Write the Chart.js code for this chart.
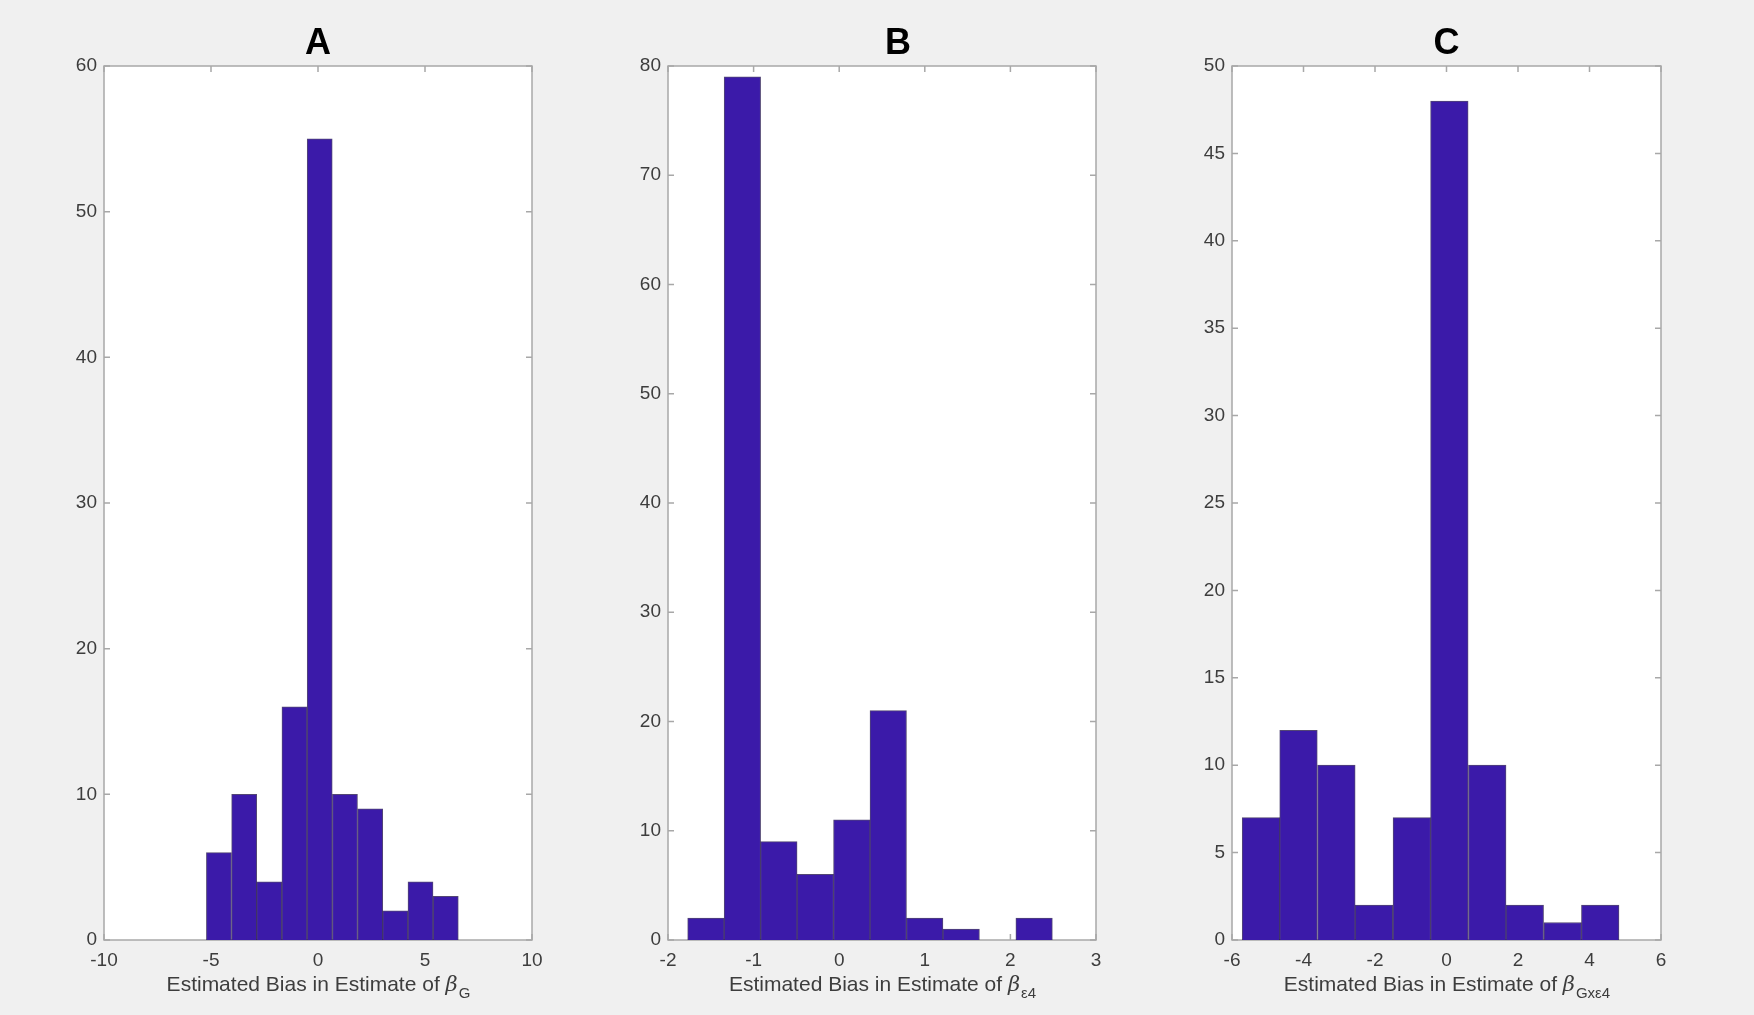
<!DOCTYPE html>
<html>
<head>
<meta charset="utf-8">
<script src="https://cdn.jsdelivr.net/npm/chart.js@4.4.1/dist/chart.umd.min.js"></script>
<style>
  html, body { margin: 0; padding: 0; background: #f0f0f0; }
  body { width: 1754px; height: 1015px; position: relative; overflow: hidden; }
  canvas { position: absolute; top: 0; }
</style>
</head>
<body>
<canvas id="cA" width="548" height="1015" style="left:24px"></canvas>
<canvas id="cB" width="548" height="1015" style="left:588px"></canvas>
<canvas id="cC" width="549" height="1015" style="left:1152px"></canvas>
<script>
// histogram bin centres and counts
const centersA = [-4.63, -3.45, -2.28, -1.10, 0.08, 1.26, 2.44, 3.61, 4.79, 5.97];
const countsA  = [6, 10, 4, 16, 55, 10, 9, 2, 4, 3];

const centersB = [-1.557, -1.131, -0.705, -0.279, 0.147, 0.573, 0.999, 1.425, 1.851, 2.277];
const countsB  = [2, 79, 9, 6, 11, 21, 2, 1, 0, 2];

const centersC = [-5.19, -4.14, -3.08, -2.03, -0.97, 0.08, 1.14, 2.19, 3.25, 4.30];
const countsC  = [7, 12, 10, 2, 7, 48, 10, 2, 1, 2];

// axis limits and tick steps
const xAxisA = [-10, 10, 5], yAxisA = [0, 60, 10];
const xAxisB = [-2, 3, 1],   yAxisB = [0, 80, 10];
const xAxisC = [-6, 6, 2],   yAxisC = [0, 50, 5];

const titles = ['A', 'B', 'C'];
const subs = ['G', '\u03b54', 'Gx\u03b54'];

const barColor = '#3b1aa9';
const frameColor = '#a8a8a8';
const textColor = '#3d3d3d';
const fontFam = '"Liberation Sans", Arial, sans-serif';

// white plot area, frame with inward ticks on all four sides, title and x label
const framePlugin = {
  id: 'frame',
  beforeDatasetsDraw(chart) {
    const ctx = chart.ctx, a = chart.chartArea;
    ctx.save();
    ctx.fillStyle = '#ffffff';
    ctx.fillRect(a.left, a.top, a.right - a.left, a.bottom - a.top);
    ctx.strokeStyle = frameColor;
    ctx.lineWidth = 1.5;
    const t = 6;
    ctx.beginPath();
    chart.scales.x.ticks.forEach(tk => {
      const px = chart.scales.x.getPixelForValue(tk.value);
      ctx.moveTo(px, a.bottom); ctx.lineTo(px, a.bottom - t);
      ctx.moveTo(px, a.top); ctx.lineTo(px, a.top + t);
    });
    chart.scales.y.ticks.forEach(tk => {
      const py = chart.scales.y.getPixelForValue(tk.value);
      ctx.moveTo(a.left, py); ctx.lineTo(a.left + t, py);
      ctx.moveTo(a.right, py); ctx.lineTo(a.right - t, py);
    });
    ctx.stroke();
    ctx.strokeRect(a.left, a.top, a.right - a.left, a.bottom - a.top);
    ctx.restore();
  },
  afterDraw(chart, args, opts) {
    const ctx = chart.ctx, a = chart.chartArea;
    const cx = (a.left + a.right) / 2;
    ctx.save();
    // panel letter
    ctx.fillStyle = '#000000';
    ctx.textAlign = 'center';
    ctx.textBaseline = 'middle';
    ctx.font = 'bold 36px ' + fontFam;
    ctx.fillText(opts.title, cx + opts.titleShift, 44);
    // x axis label with subscript
    const main = 'Estimated Bias in Estimate of ';
    ctx.fillStyle = textColor;
    ctx.textBaseline = 'alphabetic';
    ctx.textAlign = 'left';
    const fMain = '21px ' + fontFam;
    const fBeta = 'italic 21px "DejaVu Serif", serif';
    const fSub = '15px ' + fontFam;
    ctx.font = fMain; const w1 = ctx.measureText(main).width;
    ctx.font = fBeta; const w2 = ctx.measureText('\u03b2').width;
    ctx.font = fSub; const w3 = ctx.measureText(opts.sub).width;
    let x = cx - (w1 + w2 + w3) / 2;
    const y = 991;
    ctx.font = fMain; ctx.fillText(main, x, y); x += w1;
    ctx.font = fBeta; ctx.fillText('\u03b2', x, y); x += w2 + 1;
    ctx.font = fSub; ctx.fillText(opts.sub, x, y + 7);
    ctx.restore();
  }
};

function makeChart(id, centers, counts, xAxis, yAxis, title, sub, titleShift) {
  return new Chart(document.getElementById(id), {
    type: 'bar',
    data: {
      datasets: [{
        data: centers.map((c, i) => ({ x: c, y: counts[i] })),
        backgroundColor: barColor,
        borderColor: 'rgba(25, 10, 70, 0.75)',
        borderWidth: 1,
        barPercentage: 1,
        categoryPercentage: 1
      }]
    },
    options: {
      responsive: false,
      animation: false,
      devicePixelRatio: 1,
      layout: { padding: { left: 0, right: 40, top: 66, bottom: 0 } },
      plugins: {
        legend: { display: false },
        tooltip: { enabled: false },
        title: { display: false },
        frame: { sub: sub, title: title, titleShift: titleShift }
      },
      scales: {
        x: {
          type: 'linear',
          min: xAxis[0], max: xAxis[1],
          offset: false,
          grid: { display: false, drawTicks: false, offset: false },
          border: { display: false },
          ticks: {
            stepSize: xAxis[2],
            padding: 9,
            color: textColor,
            font: { family: fontFam, size: 19 },
            maxRotation: 0
          },
          afterFit(s) { s.height = 75; }
        },
        y: {
          min: yAxis[0], max: yAxis[1],
          grid: { display: false, drawTicks: false },
          border: { display: false },
          ticks: {
            stepSize: yAxis[2],
            padding: 7,
            color: textColor,
            font: { family: fontFam, size: 19 }
          },
          afterFit(s) { s.width = 80; }
        }
      }
    },
    plugins: [framePlugin]
  });
}

makeChart('cA', centersA, countsA, xAxisA, yAxisA, titles[0], subs[0], 0);
makeChart('cB', centersB, countsB, xAxisB, yAxisB, titles[1], subs[1], 16);
makeChart('cC', centersC, countsC, xAxisC, yAxisC, titles[2], subs[2], 0);
</script>
</body>
</html>
